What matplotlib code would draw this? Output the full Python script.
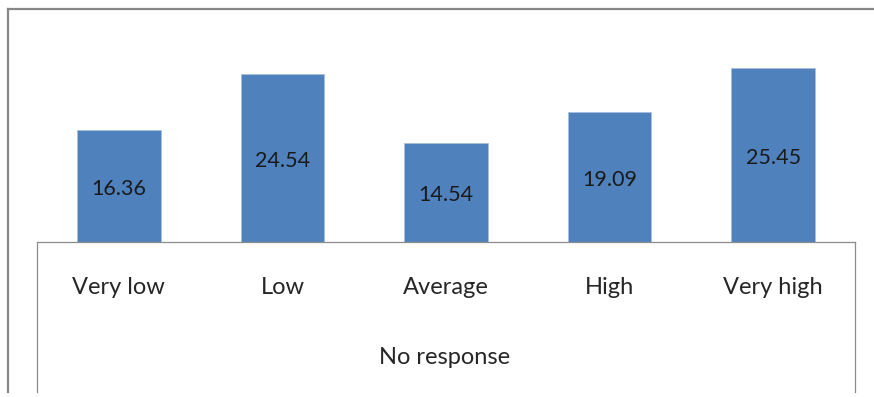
import matplotlib
matplotlib.use("Agg")
import matplotlib.pyplot as plt
import matplotlib.transforms as mtransforms
from matplotlib.lines import Line2D

# chart data
categories = ["Very low", "Low", "Average", "High", "Very high"]
values = [16.36, 24.54, 14.54, 19.09, 25.45]
series_name = "No response"

W, H = 874, 397
plt.rcParams['font.family'] = ['Lato', 'DejaVu Sans']

fig = plt.figure(figsize=(W / 100, H / 100), dpi=100)

def fx(px):
    return px / W

def fy(py):
    return 1 - py / H

# plot area: categories span x 37..855 px, baseline at y 242 px
ax = fig.add_axes([fx(37), fy(242), fx(855) - fx(37), fy(37) - fy(242)])
x = range(len(categories))
bars = ax.bar(x, values, width=0.51, color="#4F81BD", edgecolor="#A7BFDE", linewidth=0.6)
ax.set_xlim(-0.5, len(categories) - 0.5)
ax.set_ylim(0, 30)
ax.axis("off")

# value labels centred inside the bars (nudged down a few pixels like Excel)
nudge = mtransforms.offset_copy(ax.transData, fig=fig, x=0, y=-3, units="dots")
for b, v in zip(bars, values):
    ax.text(b.get_x() + b.get_width() / 2, v / 2, f"{v:.2f}", transform=nudge,
            ha="center", va="center", fontsize=15.5, color="#1a1a1a")

# category labels below the axis
trans = mtransforms.blended_transform_factory(ax.transData, fig.transFigure)
for i, c in enumerate(categories):
    ax.text(i, fy(287), c, transform=trans, ha="center", va="center",
            fontsize=17, color="#262626")

fig.text(fx(445), fy(358), series_name, ha="center", va="center",
         fontsize=17, color="#262626")

# inner box (data table outline)
box_kw = dict(color="#8c8c8c", linewidth=0.9, transform=fig.transFigure)
fig.add_artist(Line2D([fx(37), fx(855)], [fy(242), fy(242)], **box_kw))
fig.add_artist(Line2D([fx(37), fx(37)], [fy(242), fy(392)], **box_kw))
fig.add_artist(Line2D([fx(855), fx(855)], [fy(242), fy(392)], **box_kw))

# outer chart frame
frame_kw = dict(color="#878787", linewidth=1.6, transform=fig.transFigure)
fig.add_artist(Line2D([fx(8), fx(874)], [fy(9), fy(9)], **frame_kw))
fig.add_artist(Line2D([fx(8), fx(8)], [fy(9), fy(392)], **frame_kw))

fig.savefig("out.png", dpi=100)
